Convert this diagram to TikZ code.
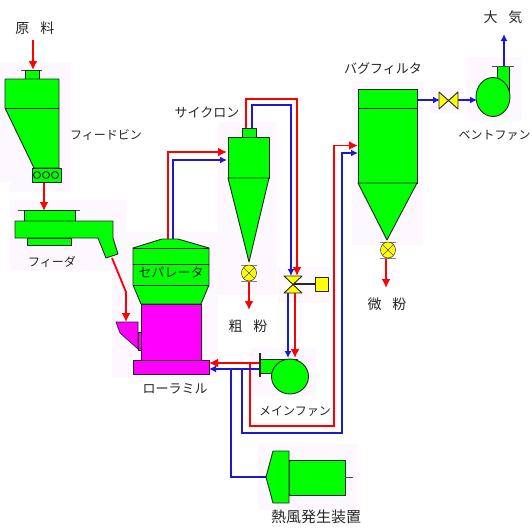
\documentclass[tikz,border=0pt]{standalone}
\usepackage{fontspec}
\newfontfamily\cjk{Noto Sans CJK JP}
\usetikzlibrary{arrows.meta}
\definecolor{palebg}{HTML}{FDF8FF}
\definecolor{unitgreen}{HTML}{00FF00}
\definecolor{millpink}{HTML}{FF00FF}
\definecolor{valveyellow}{HTML}{FFFF00}
\definecolor{gaspipe}{HTML}{FF0000}
\definecolor{airpipe}{HTML}{1A1ACC}
\tikzset{
  every node/.style={font=\cjk\fontsize{13}{13}\selectfont, text=black!85, inner sep=0pt},
  smalllabel/.style={font=\cjk\fontsize{12}{12}\selectfont},
  widelabel/.style={font=\cjk\fontsize{14}{14}\selectfont},
  largelabel/.style={font=\cjk\fontsize{15}{15}\selectfont},
  unit/.style={draw=black!85, line width=0.9pt, fill=unitgreen, line join=round},
  mill/.style={draw=black!85, line width=0.7pt, fill=millpink},
  yellowpart/.style={draw=black!85, line width=0.9pt, fill=valveyellow, line join=round},
  redpipe/.style={draw=gaspipe, line width=1.8pt, -{Latex[length=9pt,width=9pt]}},
  bluepipe/.style={draw=airpipe, line width=1.5pt, -{Latex[length=7pt,width=7pt]}},
  blueline/.style={draw=airpipe, line width=1.5pt},
}
\begin{document}
\begin{tikzpicture}[x=1pt, y=-1pt]
\useasboundingbox (0,0) rectangle (532,530);
% Pale patches behind the units
\fill[palebg] (0,62) rectangle (71,182);
\fill[palebg] (10,182) rectangle (71,192);
\fill[palebg] (10,200) rectangle (126,270);
\fill[palebg] (112,232) rectangle (218,378);
\fill[palebg] (218,122) rectangle (277,295);
\fill[palebg] (278,267) rectangle (330,303);
\fill[palebg] (249,348) rectangle (316,396);
\fill[palebg] (258,444) rectangle (357,510);
\fill[palebg] (352,81) rectangle (423,245);
\fill[palebg] (430,88) rectangle (463,113);
\fill[palebg] (467,57) rectangle (522,121);
% Pipe ends
\coordinate (rawTop) at (33,40);
\coordinate (binIn) at (33,70);
\coordinate (binOut) at (44,182);
\coordinate (feederIn) at (44,211);
\coordinate (feederOut) at (112,258);
\coordinate (chuteBend) at (126,292);
\coordinate (hopperIn) at (126,322);
\coordinate (sepRed) at (168,240);
\coordinate (sepBlue) at (173,240);
\coordinate (cycInRed) at (227,152);
\coordinate (cycInBlue) at (227,160);
\coordinate (cycOutRed) at (246,128);
\coordinate (cycOutBlue) at (252,128);
\coordinate (valveInRed) at (297,276);
\coordinate (valveInBlue) at (291,276);
\coordinate (valveOutRed) at (295,293);
\coordinate (valveOutBlue) at (288,293);
\coordinate (fanInRed) at (295,358);
\coordinate (fanInBlue) at (288,358);
\coordinate (fanOutRed) at (260,363);
\coordinate (fanOutBlue) at (260,369);
\coordinate (millInRed) at (209,363);
\coordinate (millInBlue) at (209,369);
\coordinate (tapRed) at (250,363);
\coordinate (tapBlue) at (242,369);
\coordinate (tapHot) at (231,369);
\coordinate (burnerIn) at (266,477);
\coordinate (bagInRed) at (358,145.5);
\coordinate (bagInBlue) at (358,153);
\coordinate (coarseTop) at (249,282);
\coordinate (coarseEnd) at (249,310);
\coordinate (fineTop) at (386,258);
\coordinate (fineEnd) at (386,288);
\coordinate (bagOut) at (417,100);
\coordinate (ventValveIn) at (440,100);
\coordinate (ventValveOut) at (457,100);
\coordinate (ventFanIn) at (477,100);
\coordinate (stackTop) at (504,66);
\coordinate (stackEnd) at (504,34);
% Red lines
\draw[redpipe] (rawTop) -- (binIn);
\draw[redpipe] (binOut) -- (feederIn);
\draw[redpipe] (feederOut) -- (chuteBend) -- (hopperIn);
\draw[redpipe] (sepRed) |- (cycInRed);
\draw[redpipe] (cycOutRed) -- (246,99) -| (valveInRed);
\draw[redpipe] (valveOutRed) -- (fanInRed);
\draw[redpipe] (fanOutRed) -- (millInRed);
\draw[redpipe] (tapRed) -- (250,426) -| (334,145.5) -- (bagInRed);
\draw[redpipe] (coarseTop) -- (coarseEnd);
\draw[redpipe] (fineTop) -- (fineEnd);
% Blue lines
\draw[bluepipe] (sepBlue) |- (cycInBlue);
\draw[bluepipe] (cycOutBlue) -- (252,105) -| (valveInBlue);
\draw[bluepipe] (valveOutBlue) -- (fanInBlue);
\draw[bluepipe] (fanOutBlue) -- (millInBlue);
\draw[bluepipe] (tapBlue) -- (242,433) -| (342,153) -- (bagInBlue);
\draw[blueline] (tapHot) |- (burnerIn);
\draw[bluepipe] (bagOut) -- (ventValveIn);
\draw[bluepipe] (ventValveOut) -- (ventFanIn);
\draw[bluepipe] (stackTop) -- (stackEnd);
% Feed bin
\draw[thick, black!70] (21,70) -- (42,70);
\draw[unit] (25,70) rectangle (39,79);
\draw[unit] (5,79) -- (59,79) -- (59,168) -- (34,168) -- (5,108) -- cycle;
\draw[unit] (5,108) -- (59,108);
\draw[unit] (32,168) rectangle (61,182);
\foreach \cx in {37,46,55}{
  \draw[unit] (\cx,175) circle (3.5);
}
% Feeder
\draw[thick, black!70] (18,210) -- (80,210);
\draw[unit] (24,210) rectangle (75,221);
\draw[unit] (27,238) rectangle (71,245);
\draw[unit] (15,221) -- (113,221) -- (113,238) -- (118,254) -- (106,258) -- (98,238) -- (15,238) -- cycle;
% Separator
\draw[unit] (133,248) -- (162,239) -- (178,239) -- (209,248) -- (209,285) -- (201,304) -- (141,304) -- (133,285) -- cycle;
\draw[unit] (133,248) -- (209,248);
\draw[unit] (133,264) -- (209,264);
\draw[unit] (133,285) -- (209,285);
% Roller mill
\draw[mill] (138,332) rectangle (142,350);
\draw[mill] (141,304) rectangle (201,360);
\draw[mill] (116,322) -- (138,322) -- (138,349) -- (120,333) -- cycle;
\draw[mill] (133,360) rectangle (209,374);
% Cyclone
\draw[unit] (242,128) rectangle (256,137);
\draw[unit] (228,137) rectangle (269,178);
\draw[unit] (228,178) -- (269,178) -- (249,262) -- cycle;
% Main fan
\draw[unit] (260,359) -- (297,359) -- (297,373) -- (260,373) -- cycle;
\draw[unit] (290,376.5) ellipse (18.5 and 17.5);
\draw[line width=1.2pt, black!85] (260,353) -- (260,377);
% Hot air generator
\draw[unit] (289,460) rectangle (345,495);
\draw[unit] (266,477) -- (273,451) -- (289,451) -- (289,503) -- (273,503) -- cycle;
\draw[black!70] (345,477) -- (353,477);
% Bag filter
\draw[unit] (358,89) rectangle (417,183);
\draw[unit] (358,108) -- (417,108);
\draw[unit] (358,183) -- (417,183) -- (387,240) -- cycle;
% Vent fan
\draw[unit] (497,66) -- (509,66) -- (509,95) -- (497,95) -- cycle;
\draw[unit] (493,97) ellipse (17 and 19.5);
\draw[thick, black!70] (492,66) -- (514,66);
% Rotary valves
\foreach \vx/\vy in {249/273, 388/250}{
  \draw[black!50] (\vx-8,\vy-8) -- (\vx+8,\vy-8) (\vx-8,\vy+8) -- (\vx+8,\vy+8);
  \draw[yellowpart, line width=0.5pt] (\vx,\vy) ellipse (7.5 and 8);
  \draw[black!70, thin] (\vx-5,\vy-5) -- (\vx+5,\vy+5) (\vx-5,\vy+5) -- (\vx+5,\vy-5);
}
% Damper on the main line
\draw[line width=1.2pt, black!85] (293,284) -- (315,284);
\draw[yellowpart] (284,276) -- (302,276) -- (284,293) -- (302,293) -- cycle;
\draw[yellowpart] (315,277) rectangle (328,291);
% Damper on the vent line
\draw[yellowpart] (439,92) -- (439,109) -- (458,92) -- (458,109) -- cycle;
% Labels
\node[widelabel] (rawLabel) at (35,28) {原\hspace{11pt}料};
\node[smalllabel] (binLabel) at (106,135) {フィードビン};
\node[smalllabel] (feederLabel) at (52,262) {フィーダ};
\node (sepLabel) at (171,272) {セパレータ};
\node (millLabel) at (175,389) {ローラミル};
\node (cycLabel) at (207,113) {サイクロン};
\node[widelabel] (coarseLabel) at (248,326) {粗\hspace{11pt}粉};
\node[smalllabel] (fanLabel) at (295,411) {メインファン};
\node[largelabel] (burnerLabel) at (316,517) {熱風発生装置};
\node (bagLabel) at (383,69) {バグフィルタ};
\node[widelabel] (fineLabel) at (387,304) {微\hspace{11pt}粉};
\node[smalllabel] (ventLabel) at (494.5,135) {ベントファン};
\node[widelabel] (airLabel) at (503,17) {大\hspace{11pt}気};
\end{tikzpicture}
\end{document}
